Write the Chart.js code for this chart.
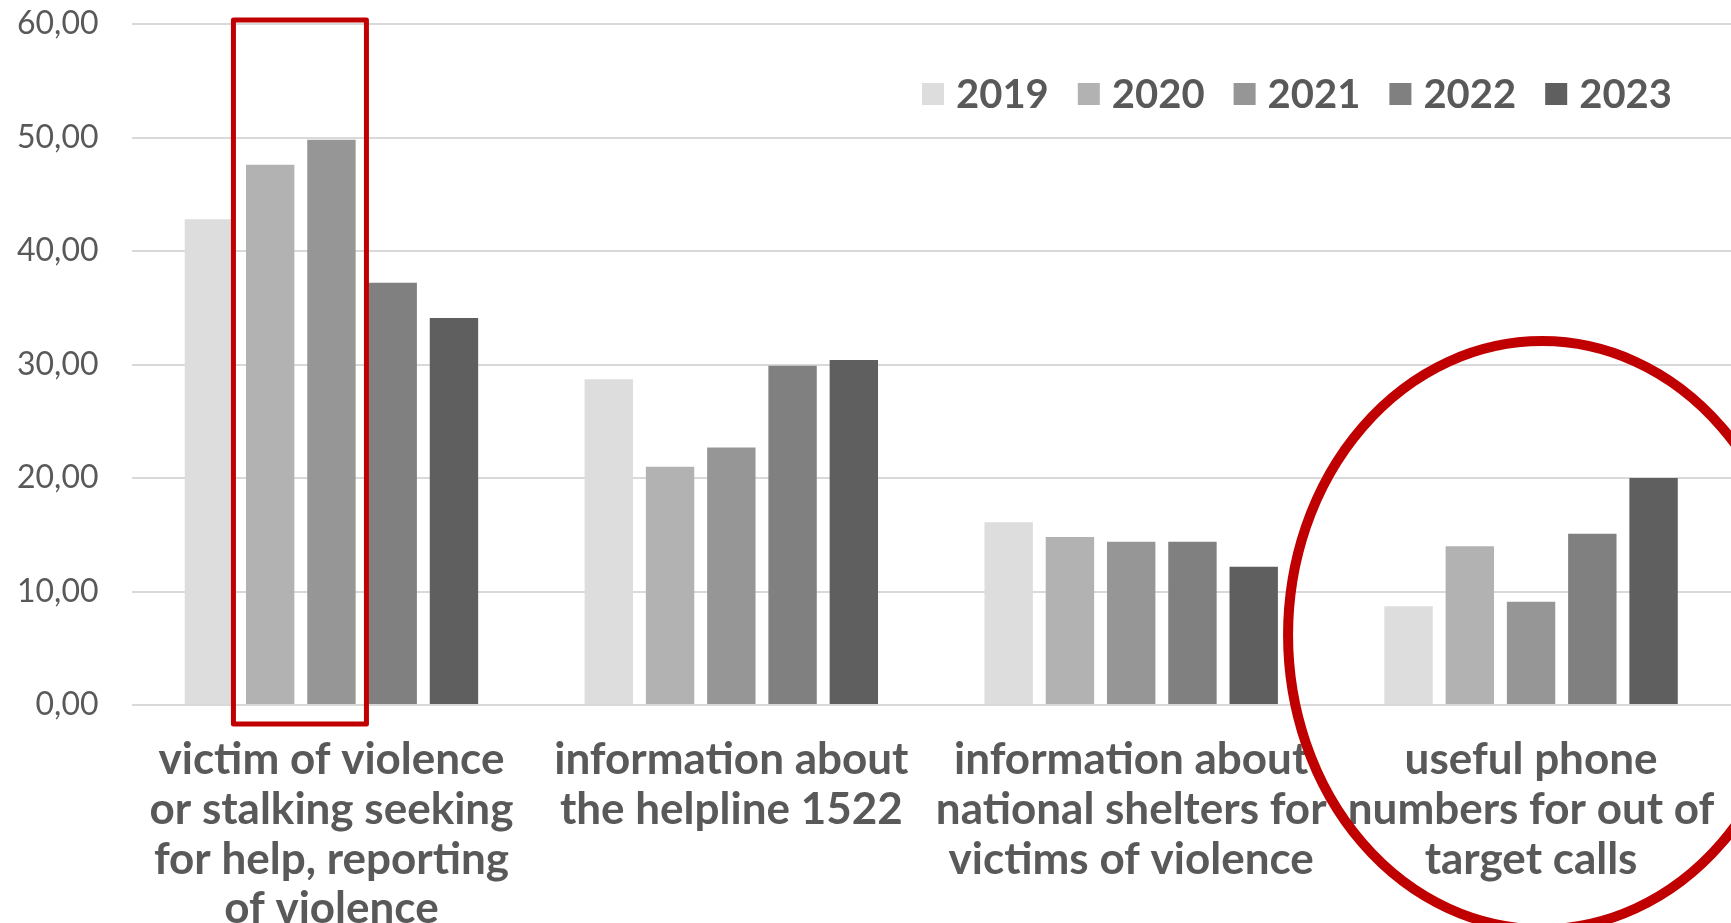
<!DOCTYPE html>
<html>
<head>
<meta charset="utf-8">
<script src="https://cdn.jsdelivr.net/npm/chart.js@4.4.1/dist/chart.umd.min.js"></script>
<style>
  html, body { margin: 0; padding: 0; background: #fff; overflow: hidden; }
  #wrap { width: 1731px; height: 934px; }
</style>
</head>
<body>
<div id="wrap"><canvas id="calls" width="1731" height="934"></canvas></div>
<script>
let categories = [
  ["victim of violence", "or stalking seeking", "for help, reporting", "of violence"],
  ["information about", "the helpline 1522"],
  ["information about", "national shelters for", "victims of violence"],
  ["useful phone", "numbers for out of", "target calls"],
];
let years = ["2019", "2020", "2021", "2022", "2023"];
let values2019 = [42.8, 28.7, 16.1, 8.7];
let values2020 = [47.6, 21.0, 14.8, 14.0];
let values2021 = [49.8, 22.7, 14.4, 9.1];
let values2022 = [37.2, 29.9, 14.4, 15.1];
let values2023 = [34.1, 30.4, 12.2, 20.0];
let yTicks = [0, 10, 20, 30, 40, 50, 60];
let colorHex = ["#dddddd", "#b2b2b2", "#969696", "#808080", "#5f5f5f"];

let series = [values2019, values2020, values2021, values2022, values2023];

// legend + the red highlight marks drawn on top
let marksPlugin = {
  id: "marks",
  afterDraw: (chart) => {
    let c = chart.ctx;
    let x = chart.scales.x;
    let y = chart.scales.y;
    c.save();
    c.font = "bold 40px Lato";
    c.textBaseline = "middle";
    let lx = 922;
    chart.data.datasets.forEach((ds) => {
      c.fillStyle = ds.backgroundColor;
      c.fillRect(lx, 83, 22, 22);
      c.fillStyle = "#595959";
      c.fillText(ds.label, lx + 34, 95);
      lx += 34 + c.measureText(ds.label).width + 29;
    });

    let g1 = x.getPixelForValue(0);
    c.strokeStyle = "#c00000";
    c.lineWidth = 5;
    c.lineJoin = "round";
    c.strokeRect(g1 - 98, y.getPixelForValue(60) - 4, 133, y.getPixelForValue(0) - y.getPixelForValue(60) + 23);

    let g4 = x.getPixelForValue(3);
    c.lineWidth = 10;
    c.beginPath();
    c.ellipse(g4 + 11, y.getPixelForValue(0) - 70, 254, 294, 0, 0, Math.PI * 2);
    c.stroke();
    c.restore();
  },
};

let ctx = document.getElementById("calls").getContext("2d");
let calls = new Chart(ctx, {
  type: "bar",
  data: {
    labels: categories,
    datasets: years.map((yr, i) => ({
      label: yr,
      data: series[i],
      backgroundColor: colorHex[i],
      categoryPercentage: 0.766,
      barPercentage: 0.79,
    })),
  },
  options: {
    responsive: false,
    animation: false,
    layout: {
      padding: { left: 17, right: 0, top: 24, bottom: 0 },
    },
    plugins: {
      legend: { display: false },
      tooltip: { enabled: false },
    },
    scales: {
      x: {
        grid: {
          display: true,
          drawOnChartArea: false,
          drawTicks: true,
          tickLength: 30,
          color: "rgba(0,0,0,0)",
          tickColor: "rgba(0,0,0,0)",
        },
        border: { display: false },
        ticks: {
          color: "#595959",
          padding: 0,
          maxRotation: 0,
          autoSkip: false,
          font: { family: "Lato", weight: "bold", size: 44, lineHeight: 1.13 },
        },
      },
      y: {
        min: 0,
        max: 60,
        afterBuildTicks: (axis) => {
          axis.ticks = yTicks.map((v) => ({ value: v }));
        },
        grid: {
          color: "#d9d9d9",
          lineWidth: 2,
          drawTicks: true,
          tickLength: 33,
          tickColor: "rgba(0,0,0,0)",
        },
        border: { display: false },
        ticks: {
          color: "#595959",
          padding: 0,
          font: { family: "Lato", size: 32 },
          callback: (value) => value.toFixed(2).replace(".", ","),
        },
      },
    },
  },
  plugins: [marksPlugin],
});
</script>
</body>
</html>
